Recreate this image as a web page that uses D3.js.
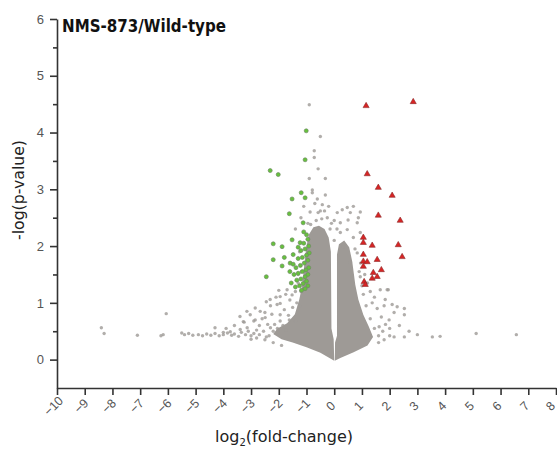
<!DOCTYPE html>
<html>
<head>
<meta charset="utf-8">
<script src="https://cdn.jsdelivr.net/npm/d3@7"></script>
<style>
  body { margin: 0; background: #fff; }
  svg { display: block; font-family: "DejaVu Sans", sans-serif; }
</style>
</head>
<body>
<div id="chart"></div>
<script>
// Volcano plot NMS-873 / Wild-type

const xTicks = [-10, -9, -8, -7, -6, -5, -4, -3, -2, -1, 0, 1, 2, 3, 4, 5, 6, 7, 8];
const yTicks = [0, 1, 2, 3, 4, 5, 6];
const yMinorTicks = [0.5, 1.5, 2.5, 3.5, 4.5, 5.5];

// contorno da nuvem densa (log2 FC, -log p)
const coreLeft = [
  [0.0, -0.02], [-0.5, 0.12], [-1.0, 0.22], [-1.5, 0.3], [-1.9, 0.36], [-2.2, 0.45],
  [-2.05, 0.55], [-1.7, 0.64], [-1.42, 0.8], [-1.26, 1.06], [-1.15, 1.32], [-1.08, 1.67],
  [-1.01, 1.97], [-0.92, 2.2], [-0.75, 2.33], [-0.55, 2.36], [-0.35, 2.3], [-0.2, 2.15],
  [-0.12, 1.9], [-0.1, 0.55], [-0.02, 0.36]
];
const coreRight = [
  [0.1, 0.42], [0.1, 1.85], [0.17, 2.03], [0.36, 2.1], [0.54, 1.98], [0.65, 1.73],
  [0.76, 1.32], [0.87, 1.06], [1.05, 0.79], [1.25, 0.58], [1.4, 0.4], [1.2, 0.25],
  [0.7, 0.13], [0.22, 0.03], [0.02, -0.02], [0.03, 0.3]
];

const greyPoints = [
  // cauda esquerda
  [-8.4, 0.56], [-8.3, 0.46], [-7.1, 0.43], [-6.06, 0.81], [-6.17, 0.44], [-6.25, 0.42],
  [-5.5, 0.47], [-5.4, 0.44], [-5.25, 0.46], [-5.1, 0.43], [-4.9, 0.44], [-4.75, 0.42],
  [-4.6, 0.45], [-4.45, 0.43], [-4.3, 0.46], [-4.15, 0.42], [-4.0, 0.44], [-3.85, 0.47],
  [-3.7, 0.43], [-3.6, 0.45], [-3.45, 0.41], [-3.35, 0.48], [-3.2, 0.44], [-3.1, 0.5],
  [-3.0, 0.42], [-2.9, 0.46], [-2.8, 0.52], [-2.7, 0.44],
  [-3.4, 0.76], [-3.15, 0.85], [-2.85, 0.91], [-2.5, 0.83], [-2.9, 0.68], [-3.25, 0.66],
  [-2.6, 0.72], [-2.3, 0.95], [-2.1, 1.1], [-1.95, 0.99], [-2.25, 0.8], [-1.8, 0.88],
  [-2.0, 1.22], [-1.75, 1.15], [-1.6, 1.05], [-2.45, 1.02], [-1.65, 0.78], [-2.7, 0.6],
  [-3.6, 0.6], [-3.9, 0.55], [-4.3, 0.56], [-2.31, 1.06], [-2.06, 0.97], [-2.67, 0.85],
  [-3.03, 0.79], [-3.28, 0.67], [-2.85, 0.7], [-2.49, 0.74], [-1.95, 0.79], [-1.7, 1.23],
  [-1.52, 1.14], [-1.95, 1.11], [-3.39, 0.53], [-3.14, 0.56], [-3.75, 0.49], [-4.0, 0.48],
  [-1.25, 0.95], [-1.35, 1.0], [-1.2, 1.2], [-1.3, 1.35], [-1.18, 1.55], [-1.5, 0.92],
  [-1.62, 0.7], [-1.85, 0.6], [-2.05, 0.55], [-2.2, 0.5], [-2.4, 0.62], [-1.4, 0.68],
  [-2.8, 0.38], [-2.5, 0.35], [-3.0, 0.36], [-2.2, 0.3], [-1.9, 0.25], [-2.35, 0.42],
  [-2.55, 0.5], [-2.3, 0.56], [-2.45, 0.4], [-2.15, 0.62], [-1.95, 0.68], [-1.75, 0.52],
  // topo da nuvem
  [-0.9, 4.49], [-0.5, 3.93], [-0.72, 3.68], [-0.72, 3.56], [-0.58, 3.36], [-0.9, 3.19],
  [-0.32, 3.19], [-0.79, 2.99], [-0.61, 2.83], [-0.32, 2.9], [-0.79, 2.94], [-0.43, 2.73],
  [-0.87, 2.6], [-0.58, 2.59], [0.11, 2.59], [0.29, 2.64], [0.47, 2.68], [0.58, 2.59],
  [0.69, 2.7], [0.94, 2.6], [0.22, 2.41], [0.5, 2.46], [0.83, 2.41], [0.94, 2.24],
  [0.22, 2.24], [0.47, 2.29], [0.69, 2.15], [0.87, 2.5], [-1.3, 1.5], [-1.4, 1.2],
  [-1.25, 1.9], [-1.4, 2.3], [-1.2, 2.5], [-0.95, 2.4], [-1.1, 2.7], [-0.7, 2.75],
  [-0.5, 2.62], [-0.25, 2.5], [-0.15, 2.3], [0.0, 2.1], [0.0, 2.45], [-0.2, 2.7],
  [0.1, 2.3], [-0.35, 2.62], [-0.65, 2.45], [-0.45, 2.48], [-0.85, 2.38], [-0.1, 2.4],
  // lado direito
  [0.32, 1.99], [0.83, 1.88], [0.58, 1.71], [0.94, 1.46], [1.66, 1.23], [1.95, 1.23],
  [1.84, 1.06], [1.37, 1.0], [1.91, 1.23], [2.09, 0.97], [2.27, 0.93], [2.53, 0.9],
  [2.53, 0.79], [2.16, 0.83], [1.98, 0.7], [1.62, 0.58], [2.16, 0.4], [2.53, 0.4],
  [3.0, 0.44], [3.54, 0.4], [3.82, 0.41], [5.12, 0.46], [6.57, 0.44],
  [1.75, 0.5], [1.85, 0.62], [2.0, 0.55], [1.7, 0.75], [1.55, 0.9], [1.45, 1.1],
  [1.8, 0.95], [2.35, 0.6], [2.7, 0.5], [1.3, 1.2], [1.2, 1.35], [1.05, 1.15],
  [1.6, 0.42], [1.6, 0.3], [1.8, 0.35], [2.0, 0.42], [0.95, 1.7], [1.1, 1.5], [0.75, 1.95],
  [1.45, 0.55], [1.3, 0.72], [1.15, 0.95], [1.0, 1.3], [0.9, 1.55]
];

const greenPoints = [
  [-1.01, 4.03], [-1.05, 3.52], [-2.31, 3.33], [-2.02, 3.26], [-1.52, 2.83], [-1.19, 2.94],
  [-1.05, 2.85], [-1.62, 2.57], [-1.12, 2.41], [-2.2, 2.04], [-1.88, 1.99], [-2.2, 1.76],
  [-2.45, 1.46], [-1.88, 1.65], [-1.52, 2.11], [-1.23, 2.06], [-1.8, 1.8], [-1.48, 1.85],
  [-1.59, 1.7], [-1.0, 2.2], [-0.95, 2.12], [-1.1, 2.05], [-0.92, 2.0], [-1.05, 1.95],
  [-1.2, 1.92], [-0.9, 1.88], [-1.0, 1.84], [-1.15, 1.8], [-1.3, 1.78], [-0.95, 1.75],
  [-1.08, 1.7], [-1.22, 1.66], [-1.38, 1.62], [-0.92, 1.62], [-1.02, 1.58], [-1.15, 1.55],
  [-1.3, 1.52], [-1.45, 1.5], [-0.95, 1.5], [-1.05, 1.46], [-1.2, 1.42], [-1.35, 1.4],
  [-1.0, 1.38], [-1.12, 1.34], [-1.25, 1.3], [-0.95, 1.3], [-1.4, 1.28], [-1.05, 1.25],
  [-1.18, 1.22], [-1.55, 1.35], [-1.6, 1.55], [-1.48, 1.68], [-1.3, 1.98], [-1.1, 2.25]
];

const redPoints = [
  [1.15, 4.47], [2.85, 4.54], [1.19, 3.27], [1.59, 3.03], [2.09, 2.89], [1.59, 2.54],
  [2.38, 2.45], [1.05, 2.15], [1.05, 2.06], [1.37, 2.01], [2.31, 2.02], [2.45, 1.81],
  [1.05, 1.85], [1.05, 1.73], [1.19, 1.72], [1.55, 1.76], [1.7, 1.58], [1.41, 1.53],
  [1.55, 1.46], [1.37, 1.43], [1.08, 1.37], [1.12, 1.32], [1.05, 1.64]
];

const W = 557, H = 451;
const svg = d3.select('#chart').append('svg')
  .attr('width', W)
  .attr('height', H);

const x = d3.scaleLinear().domain([-10, 8]).range([57, 556]);
const y = d3.scaleLinear().domain([-0.5, 6]).range([388, 19]);

const grey = '#9e9a96';

// suavizar bordas da nuvem
svg.append('defs').append('filter')
  .attr('id', 'soft')
  .append('feGaussianBlur')
  .attr('stdDeviation', 0.5);

// nuvem densa
const line = d3.line().x(d => x(d[0])).y(d => y(d[1])).curve(d3.curveLinearClosed);
svg.selectAll('.core')
  .data([coreLeft, coreRight])
  .enter()
  .append('path')
  .attr('class', 'core')
  .attr('d', line)
  .attr('fill', grey)
  .attr('stroke', 'none')
  .attr('filter', 'url(#soft)');

// pontos cinza
svg.selectAll('.grey-dot')
  .data(greyPoints)
  .enter()
  .append('circle')
  .attr('class', 'grey-dot')
  .attr('cx', d => x(d[0]))
  .attr('cy', d => y(d[1]))
  .attr('r', 1.7)
  .attr('fill', grey)
  .attr('opacity', 0.8);

// pontos verdes
svg.selectAll('.green-dot')
  .data(greenPoints)
  .enter()
  .append('circle')
  .attr('class', 'green-dot')
  .attr('cx', d => x(d[0]))
  .attr('cy', d => y(d[1]))
  .attr('r', 2)
  .attr('fill', '#66c23c')
  .attr('stroke', '#6f8a63')
  .attr('stroke-width', 0.7);

// triângulos vermelhos
const tri = d3.symbol().type(d3.symbolTriangle).size(16);
svg.selectAll('.red-dot')
  .data(redPoints)
  .enter()
  .append('path')
  .attr('class', 'red-dot')
  .attr('transform', d => `translate(${x(d[0])},${y(d[1])})`)
  .attr('d', tri)
  .attr('fill', '#d82424')
  .attr('stroke', '#8a2a2a')
  .attr('stroke-width', 0.6);

// eixos
const xAxis = svg.append('g')
  .attr('transform', `translate(0,${y(-0.5)})`)
  .call(d3.axisBottom(x).tickValues(xTicks).tickSize(7).tickSizeOuter(0).tickFormat(d3.format('d')));

xAxis.selectAll('text')
  .attr('y', 0)
  .attr('x', 0)
  .attr('dy', 0)
  .attr('transform', d => `translate(${d === 8 ? -3 : -1},21) rotate(-45)`)
  .style('text-anchor', 'middle')
  .style('font-size', '12.5px')
  .attr('fill', '#555');

const yAxis = svg.append('g')
  .attr('transform', `translate(${x(-10)},0)`)
  .call(d3.axisLeft(y).tickValues(yTicks).tickSize(7).tickSizeOuter(0).tickPadding(6).tickFormat(d3.format('d')));

yAxis.selectAll('text')
  .style('font-size', '13px')
  .attr('fill', '#555');

svg.append('g')
  .attr('transform', `translate(${x(-10)},0)`)
  .call(d3.axisLeft(y).tickValues(yMinorTicks).tickSize(4).tickFormat(''))
  .select('.domain').remove();

svg.selectAll('.domain, .tick line')
  .attr('stroke', '#333')
  .attr('stroke-width', 1.6);

// título e rótulos
svg.append('text')
  .attr('x', 62)
  .attr('y', 32)
  .attr('textLength', 164)
  .attr('lengthAdjust', 'spacingAndGlyphs')
  .style('font-size', '17px')
  .style('font-weight', 'bold')
  .attr('fill', '#111')
  .text('NMS-873/Wild-type');

const xl = svg.append('text')
  .attr('x', 284)
  .attr('y', 442)
  .style('text-anchor', 'middle')
  .style('font-size', '16px')
  .attr('fill', '#222');
xl.append('tspan').text('log');
xl.append('tspan').attr('dy', 4).style('font-size', '10px').text('2');
xl.append('tspan').attr('dy', -4).text('(fold-change)');

svg.append('text')
  .attr('transform', 'translate(24,190) rotate(-90)')
  .attr('textLength', 100)
  .attr('lengthAdjust', 'spacingAndGlyphs')
  .style('text-anchor', 'middle')
  .style('font-size', '16px')
  .attr('fill', '#222')
  .text('-log(p-value)');
</script>
</body>
</html>
